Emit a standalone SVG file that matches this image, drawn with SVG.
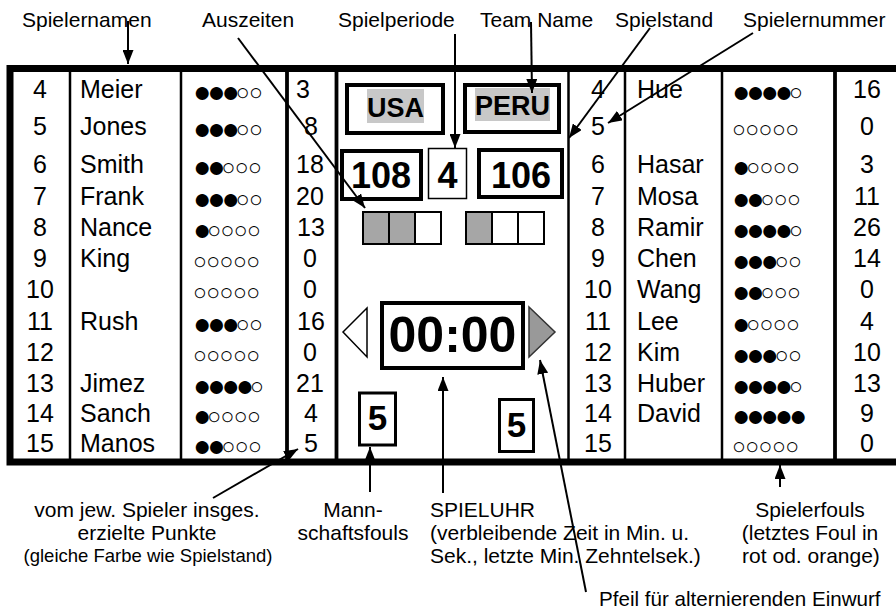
<svg xmlns="http://www.w3.org/2000/svg" width="896" height="610" viewBox="0 0 896 610">
<style>
text{font-family:"Liberation Sans","DejaVu Sans",Arial,sans-serif;fill:#000}
.lbl{font-size:21px}
.lbls{font-size:18.5px}
.c{text-anchor:middle}
.t{font-size:25px}
.d{font-size:30px;letter-spacing:-3.9px}
.h{font-size:23px;letter-spacing:-0.6px}
.b{font-weight:bold}
.col{stroke:#000;stroke-width:2.5}
.colb{stroke:#000;stroke-width:3.8}
.box{fill:#fff;stroke:#000;stroke-width:4}
.con{stroke:#000;stroke-width:2;fill:none;marker-end:url(#ah)}
.g{fill:#a6a6a6}
</style>
<defs>
<marker id="ah" markerUnits="userSpaceOnUse" markerWidth="14" markerHeight="11" refX="14" refY="5.5" orient="auto">
<path d="M0,0 L14,5.5 L0,11 z" fill="#000"/>
</marker>
</defs>
<rect width="896" height="610" fill="#fff"/>

<g id="frame">
<rect x="10" y="68.5" width="890" height="393.5" fill="none" stroke="#000" stroke-width="7"/>
<line class="col" x1="70" y1="72" x2="70" y2="459"/>
<line class="col" x1="181" y1="72" x2="181" y2="459"/>
<line class="colb" x1="287" y1="72" x2="287" y2="459"/>
<line class="colb" x1="336.5" y1="72" x2="336.5" y2="459"/>
<line class="col" x1="568.5" y1="72" x2="568.5" y2="459"/>
<line class="col" x1="625" y1="72" x2="625" y2="459"/>
<line class="col" x1="722" y1="72" x2="722" y2="459"/>
<line class="colb" x1="835" y1="72" x2="835" y2="459"/>
</g>

<g id="left-table" class="t">
<g class="c">
<text x="40" y="98">4</text><text x="40" y="135">5</text><text x="40" y="173">6</text><text x="40" y="205">7</text>
<text x="40" y="236">8</text><text x="40" y="267">9</text><text x="40" y="298">10</text><text x="40" y="330">11</text>
<text x="40" y="361">12</text><text x="40" y="392">13</text><text x="40" y="422">14</text><text x="40" y="452">15</text>
</g>
<text x="80" y="98">Meier</text><text x="80" y="135">Jones</text><text x="80" y="173">Smith</text><text x="80" y="205">Frank</text>
<text x="80" y="236">Nance</text><text x="80" y="267">King</text><text x="80" y="330">Rush</text>
<text x="80" y="392">Jimez</text><text x="80" y="422">Sanch</text><text x="80" y="452">Manos</text>
<g class="c">
<text x="303" y="98">3</text><text x="311" y="135">8</text><text x="310" y="173">18</text><text x="310" y="205">20</text>
<text x="311" y="236">13</text><text x="310" y="267">0</text><text x="310" y="298">0</text><text x="311" y="330">16</text>
<text x="310" y="361">0</text><text x="310" y="392">21</text><text x="311" y="422">4</text><text x="311" y="452">5</text>
</g>
</g>
<g id="left-fouls">
<text x="193" y="102"><tspan class="d">●●●</tspan><tspan class="h" dy="-2">○○</tspan></text>
<text x="193" y="139"><tspan class="d">●●●</tspan><tspan class="h" dy="-2">○○</tspan></text>
<text x="193" y="177"><tspan class="d">●●</tspan><tspan class="h" dy="-2">○○○</tspan></text>
<text x="193" y="209"><tspan class="d">●●●</tspan><tspan class="h" dy="-2">○○</tspan></text>
<text x="193" y="240"><tspan class="d">●</tspan><tspan class="h" dy="-2">○○○○</tspan></text>
<text x="193" y="271"><tspan class="h" dy="-2">○○○○○</tspan></text>
<text x="193" y="302"><tspan class="h" dy="-2">○○○○○</tspan></text>
<text x="193" y="334"><tspan class="d">●●●</tspan><tspan class="h" dy="-2">○○</tspan></text>
<text x="193" y="365"><tspan class="h" dy="-2">○○○○○</tspan></text>
<text x="193" y="396"><tspan class="d">●●●●</tspan><tspan class="h" dy="-2">○</tspan></text>
<text x="193" y="426"><tspan class="d">●</tspan><tspan class="h" dy="-2">○○○○</tspan></text>
<text x="193" y="456"><tspan class="d">●●</tspan><tspan class="h" dy="-2">○○○</tspan></text>
</g>

<g id="right-table" class="t">
<g class="c">
<text x="598" y="98">4</text><text x="598" y="135">5</text><text x="598" y="173">6</text><text x="598" y="205">7</text>
<text x="598" y="236">8</text><text x="598" y="267">9</text><text x="598" y="298">10</text><text x="598" y="330">11</text>
<text x="598" y="361">12</text><text x="598" y="392">13</text><text x="598" y="422">14</text><text x="598" y="452">15</text>
</g>
<text x="637" y="98">Hue</text><text x="637" y="173">Hasar</text><text x="637" y="205">Mosa</text>
<text x="637" y="236">Ramir</text><text x="637" y="267">Chen</text><text x="637" y="298">Wang</text><text x="637" y="330">Lee</text>
<text x="637" y="361">Kim</text><text x="637" y="392">Huber</text><text x="637" y="422">David</text>
<g class="c">
<text x="867" y="98">16</text><text x="867" y="135">0</text><text x="867" y="173">3</text><text x="867" y="205">11</text>
<text x="867" y="236">26</text><text x="867" y="267">14</text><text x="867" y="298">0</text><text x="867" y="330">4</text>
<text x="867" y="361">10</text><text x="867" y="392">13</text><text x="867" y="422">9</text><text x="867" y="452">0</text>
</g>
</g>
<g id="right-fouls">
<text x="732" y="102"><tspan class="d">●●●●</tspan><tspan class="h" dy="-2">○</tspan></text>
<text x="732" y="139"><tspan class="h" dy="-2">○○○○○</tspan></text>
<text x="732" y="177"><tspan class="d">●</tspan><tspan class="h" dy="-2">○○○○</tspan></text>
<text x="732" y="209"><tspan class="d">●●</tspan><tspan class="h" dy="-2">○○○</tspan></text>
<text x="732" y="240"><tspan class="d">●●●●</tspan><tspan class="h" dy="-2">○</tspan></text>
<text x="732" y="271"><tspan class="d">●●●</tspan><tspan class="h" dy="-2">○○</tspan></text>
<text x="732" y="302"><tspan class="d">●●</tspan><tspan class="h" dy="-2">○○○</tspan></text>
<text x="732" y="334"><tspan class="d">●</tspan><tspan class="h" dy="-2">○○○○</tspan></text>
<text x="732" y="365"><tspan class="d">●●●</tspan><tspan class="h" dy="-2">○○</tspan></text>
<text x="732" y="396"><tspan class="d">●●●●</tspan><tspan class="h" dy="-2">○</tspan></text>
<text x="732" y="426"><tspan class="d">●●●●●</tspan></text>
<text x="732" y="456"><tspan class="h" dy="-2">○○○○○</tspan></text>
</g>

<g id="team-usa">
<rect class="box" x="347" y="85" width="96" height="48"/>
<rect fill="#c8c8c8" x="367" y="89" width="57" height="34"/>
<text class="b c" x="395.5" y="117" font-size="27">USA</text>
</g>
<g id="team-peru">
<rect class="box" x="465" y="85" width="94" height="47"/>
<rect fill="#c8c8c8" x="475" y="88" width="75" height="33"/>
<text class="b c" x="512.5" y="115" font-size="27">PERU</text>
</g>
<g id="score-usa">
<rect class="box" x="342" y="151" width="79" height="48"/>
<text class="b c" x="381" y="188" font-size="36">108</text>
</g>
<g id="period">
<rect fill="#fff" stroke="#000" stroke-width="1.5" x="428.5" y="148.5" width="38" height="50"/>
<text class="b c" x="447.5" y="188" font-size="36">4</text>
</g>
<g id="score-peru">
<rect class="box" x="479" y="150" width="83" height="47"/>
<text class="b c" x="521" y="188" font-size="36">106</text>
</g>
<g id="timeouts-usa" stroke="#000" stroke-width="2">
<rect class="g" x="363" y="212" width="26" height="32"/>
<rect class="g" x="389" y="212" width="26" height="32"/>
<rect fill="#fff" x="415" y="212" width="26" height="32"/>
</g>
<g id="timeouts-peru" stroke="#000" stroke-width="2">
<rect class="g" x="466" y="212" width="26" height="32"/>
<rect fill="#fff" x="492" y="212" width="26" height="32"/>
<rect fill="#fff" x="518" y="212" width="26" height="32"/>
</g>
<g id="clock">
<rect class="box" x="382" y="303" width="141" height="65"/>
<text class="b c" x="452.5" y="352" font-size="50">00:00</text>
</g>
<g id="possession-left">
<polygon points="343,332 367,308 367,357" fill="#fff" stroke="#000" stroke-width="1.5"/>
</g>
<g id="possession-right">
<polygon points="529,307 555,332 529,357" fill="#999" stroke="#333" stroke-width="1.5"/>
</g>
<g id="teamfouls-usa">
<rect fill="#fff" stroke="#000" stroke-width="3" x="359.5" y="393" width="36" height="52"/>
<text class="b c" x="377.5" y="430" font-size="35">5</text>
</g>
<g id="teamfouls-peru">
<rect fill="#fff" stroke="#000" stroke-width="3" x="499.5" y="399.5" width="34" height="52"/>
<text class="b c" x="516.5" y="437" font-size="35">5</text>
</g>

<g id="labels" class="lbl">
<text x="22" y="27">Spielernamen</text>
<text x="202" y="27">Auszeiten</text>
<text x="338" y="27">Spielperiode</text>
<text x="480" y="27">Team Name</text>
<text x="615" y="27">Spielstand</text>
<text x="743" y="27">Spielernummer</text>
<g class="c">
<text x="147" y="517">vom jew. Spieler insges.</text>
<text x="147" y="540">erzielte Punkte</text>
<text x="148" y="562" class="lbls">(gleiche Farbe wie Spielstand)</text>
<text x="353" y="517">Mann-</text>
<text x="353" y="540">schaftsfouls</text>
<text x="810" y="517">Spielerfouls</text>
<text x="810" y="540">(letztes Foul in</text>
<text x="811" y="563">rot od. orange)</text>
</g>
<text x="430" y="517">SPIELUHR</text>
<text x="430" y="540">(verbleibende Zeit in Min. u.</text>
<text x="430" y="563">Sek., letzte Min. Zehntelsek.)</text>
<text x="599" y="606" font-size="20.6">Pfeil für alternierenden Einwurf</text>
</g>

<g id="connectors">
<line class="con" x1="128" y1="21" x2="128" y2="64"/>
<line class="con" x1="238" y1="38" x2="365" y2="208"/>
<line class="con" x1="455" y1="34" x2="455" y2="148"/>
<line class="con" x1="531" y1="22" x2="532" y2="93"/>
<line class="con" x1="650" y1="28" x2="569" y2="138"/>
<line class="con" x1="753" y1="33" x2="608" y2="123"/>
<line class="con" x1="213" y1="498" x2="298" y2="449"/>
<line class="con" x1="370" y1="492" x2="370" y2="447"/>
<line class="con" x1="443" y1="493" x2="443" y2="377"/>
<line class="con" x1="586" y1="592" x2="540" y2="360"/>
<line class="con" x1="780" y1="487" x2="780" y2="465"/>
</g>
</svg>
